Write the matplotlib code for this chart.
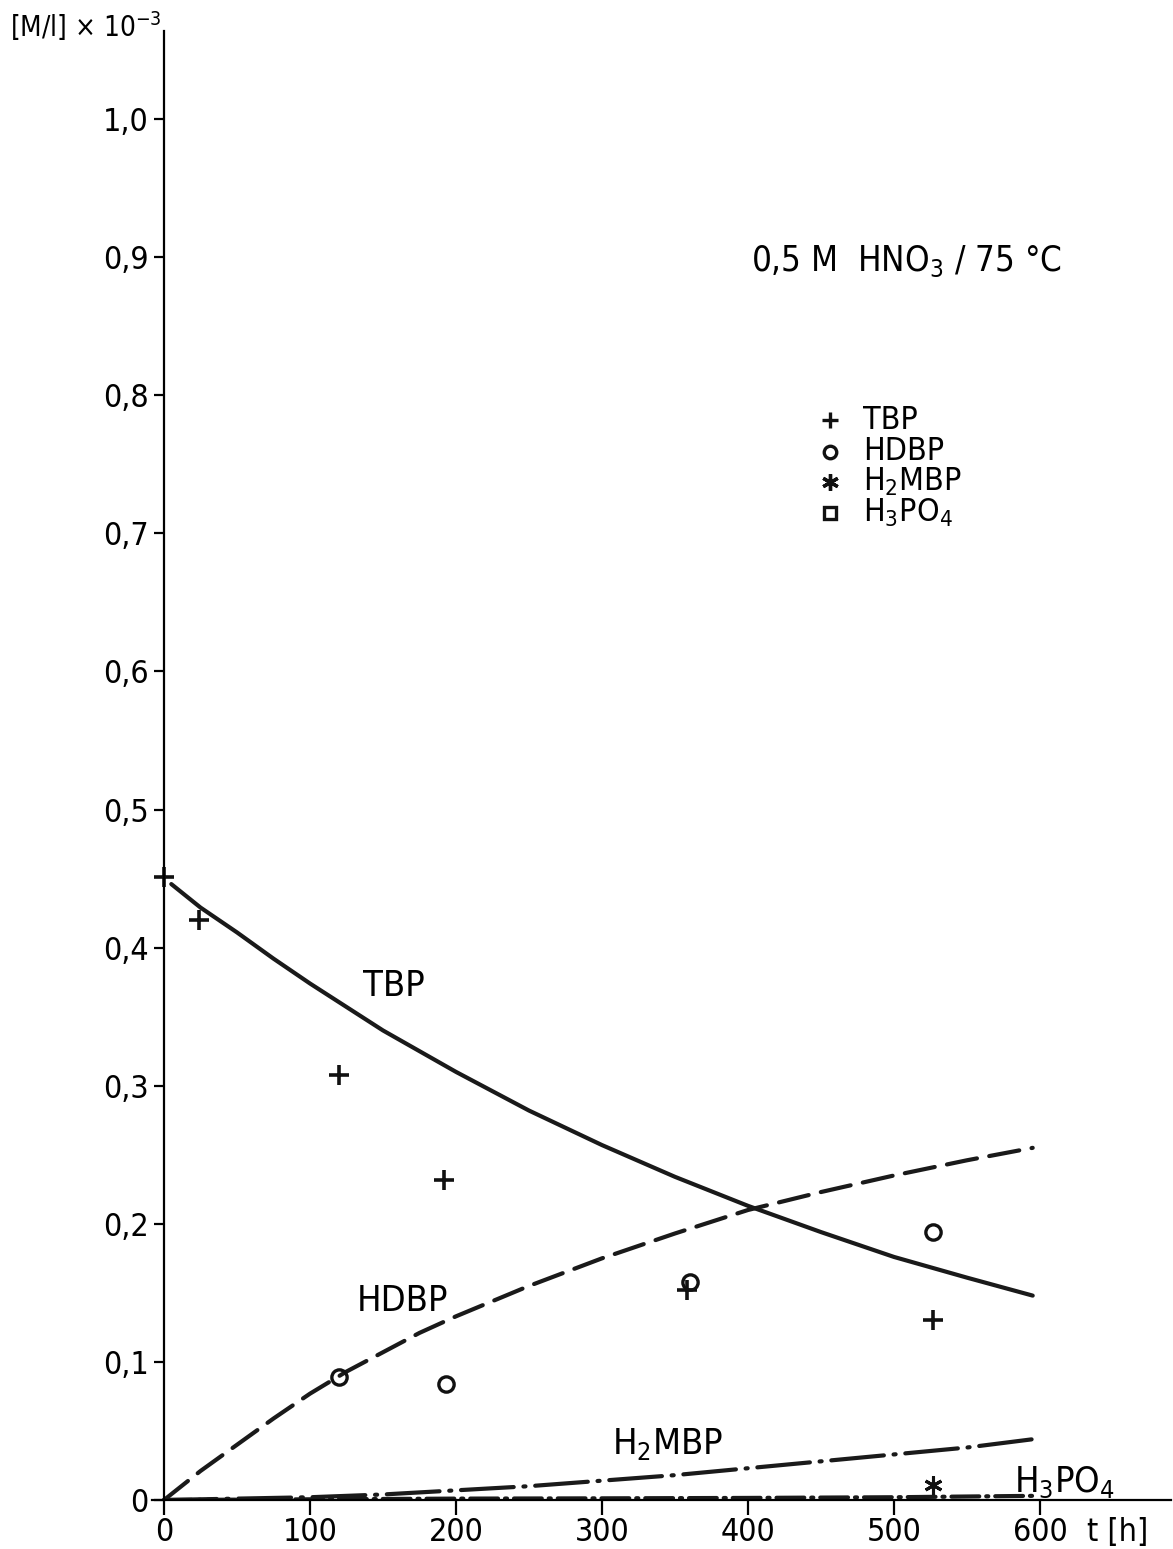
import matplotlib
matplotlib.use("Agg")
import matplotlib.pyplot as plt

# ---------------- data ----------------
tbp_t = [0, 24, 120, 192, 358, 527]
tbp_c = [0.451, 0.420, 0.308, 0.232, 0.152, 0.130]
hdbp_t = [120, 193, 360, 527]
hdbp_c = [0.089, 0.084, 0.158, 0.194]
h2mbp_t = [527]
h2mbp_c = [0.011]

curve_t = [5, 25, 50, 75, 100, 125, 150, 175, 200, 250, 300, 350, 400, 450, 500, 550, 595]
tbp_fit = [0.446, 0.429, 0.411, 0.392, 0.374, 0.357, 0.340, 0.325, 0.310, 0.282, 0.257, 0.234, 0.213, 0.194, 0.176, 0.161, 0.148]
hdbp_t_fit = [0, 25, 50, 75, 100, 125, 150, 175, 200, 250, 300, 350, 400, 450, 500, 550, 595]
hdbp_fit = [0.0, 0.021, 0.040, 0.059, 0.077, 0.093, 0.107, 0.121, 0.133, 0.155, 0.175, 0.193, 0.210, 0.223, 0.235, 0.246, 0.255]
h2mbp_t_fit = [0, 100, 150, 200, 250, 300, 350, 400, 450, 500, 550, 595]
h2mbp_fit = [0.0, 0.002, 0.004, 0.007, 0.010, 0.014, 0.018, 0.023, 0.028, 0.033, 0.038, 0.044]
h3po4_t_fit = [0, 100, 200, 300, 400, 500, 595]
h3po4_fit = [0.0, 0.0005, 0.001, 0.0012, 0.0015, 0.002, 0.003]

xticks = [0, 100, 200, 300, 400, 500, 600]
xticklabels = ["0", "100", "200", "300", "400", "500", "600"]
yticks = [0, 0.1, 0.2, 0.3, 0.4, 0.5, 0.6, 0.7, 0.8, 0.9, 1.0]
yticklabels = ["0", "0,1", "0,2", "0,3", "0,4", "0,5", "0,6", "0,7", "0,8", "0,9", "1,0"]

# ---------------- fonts ----------------
plt.rcParams["font.family"] = ["DejaVu Sans"]
plt.rcParams["font.stretch"] = "condensed"
plt.rcParams["lines.scale_dashes"] = False

W, H = 1173, 1549
fig = plt.figure(figsize=(W / 100, H / 100), dpi=100)

# pixel calibration: x px = 164 + 1.46*t ; y px = 1500 - 1381*c
x0, x1 = -8, 690
y0, y1 = 0.0, 1.064
L = 164 + 1.46 * x0
R = 164 + 1.46 * x1
B = 1500
T = 1500 - 1381 * y1
ax = fig.add_axes([L / W, 1 - B / H, (R - L) / W, (B - T) / H])
ax.set_xlim(x0, x1)
ax.set_ylim(y0, y1)

for s in ["top", "right"]:
    ax.spines[s].set_visible(False)
ax.spines["left"].set_position(("data", 0))
ax.spines["left"].set_linewidth(1.6)
ax.spines["bottom"].set_linewidth(1.6)

ax.set_xticks(xticks)
ax.set_xticklabels(xticklabels)
ax.set_yticks(yticks)
ax.set_yticklabels(yticklabels)
ax.tick_params(axis="x", direction="out", length=11, width=1.6, labelsize=23, pad=1)
ax.tick_params(axis="y", direction="out", length=7, width=1.6, labelsize=23, pad=4)

# curves
ax.plot(curve_t, tbp_fit, color="#1a1a1a", lw=3.0, solid_capstyle="round")
ax.plot(hdbp_t_fit, hdbp_fit, color="#1a1a1a", lw=3.0, dashes=(22, 9), dash_capstyle="round")
ax.plot(h2mbp_t_fit, h2mbp_fit, color="#1a1a1a", lw=3.0, dashes=(38, 7, 1.5, 7), dash_capstyle="round")
ax.plot(h3po4_t_fit, h3po4_fit, color="#1a1a1a", lw=3.0, dashes=(20, 5, 1.5, 5), dash_capstyle="round")

# data points
ax.plot(tbp_t, tbp_c, ls="none", marker="+", ms=15, mew=2.6, color="#111111", clip_on=False)
ax.plot(hdbp_t, hdbp_c, ls="none", marker="o", ms=11, mew=2.4, mfc="none", mec="#111111")
ax.plot(h2mbp_t, h2mbp_c, ls="none", marker=(6, 2, 0), ms=13, mew=2.2, color="#111111")

# curve labels
ax.text(136, 0.365, "TBP", fontsize=26)
ax.text(132, 0.137, "HDBP", fontsize=26)
ax.text(307, 0.033, "H$_2$MBP", fontsize=26)
ax.text(582, 0.006, "H$_3$PO$_4$", fontsize=26)
ax.text(632, -0.0125, "t [h]", fontsize=23, va="top", clip_on=False)

# title
ax.text(402, 0.89, "0,5 M  HNO$_3$ / 75 °C", fontsize=25)

# legend (manual)
leg_y = [0.782, 0.759, 0.737, 0.715]
leg_m = ["+", "o", (6, 2, 0), "s"]
leg_txt = ["TBP", "HDBP", "H$_2$MBP", "H$_3$PO$_4$"]
for yy, m, t in zip(leg_y, leg_m, leg_txt):
    if m == "o" or m == "s":
        ax.plot([456], [yy], marker=m, ms=9, mew=2.4, mfc="none", mec="#111111")
    else:
        ax.plot([456], [yy], marker=m, ms=12, mew=2.4, color="#111111")
    ax.text(479, yy, t, fontsize=23, va="center")

# y axis label
fig.text(10 / W, 1 - 26 / H, "[M/l] × 10$^{-3}$", fontsize=20, va="center")

fig.savefig("out.png", dpi=100, facecolor="white")
